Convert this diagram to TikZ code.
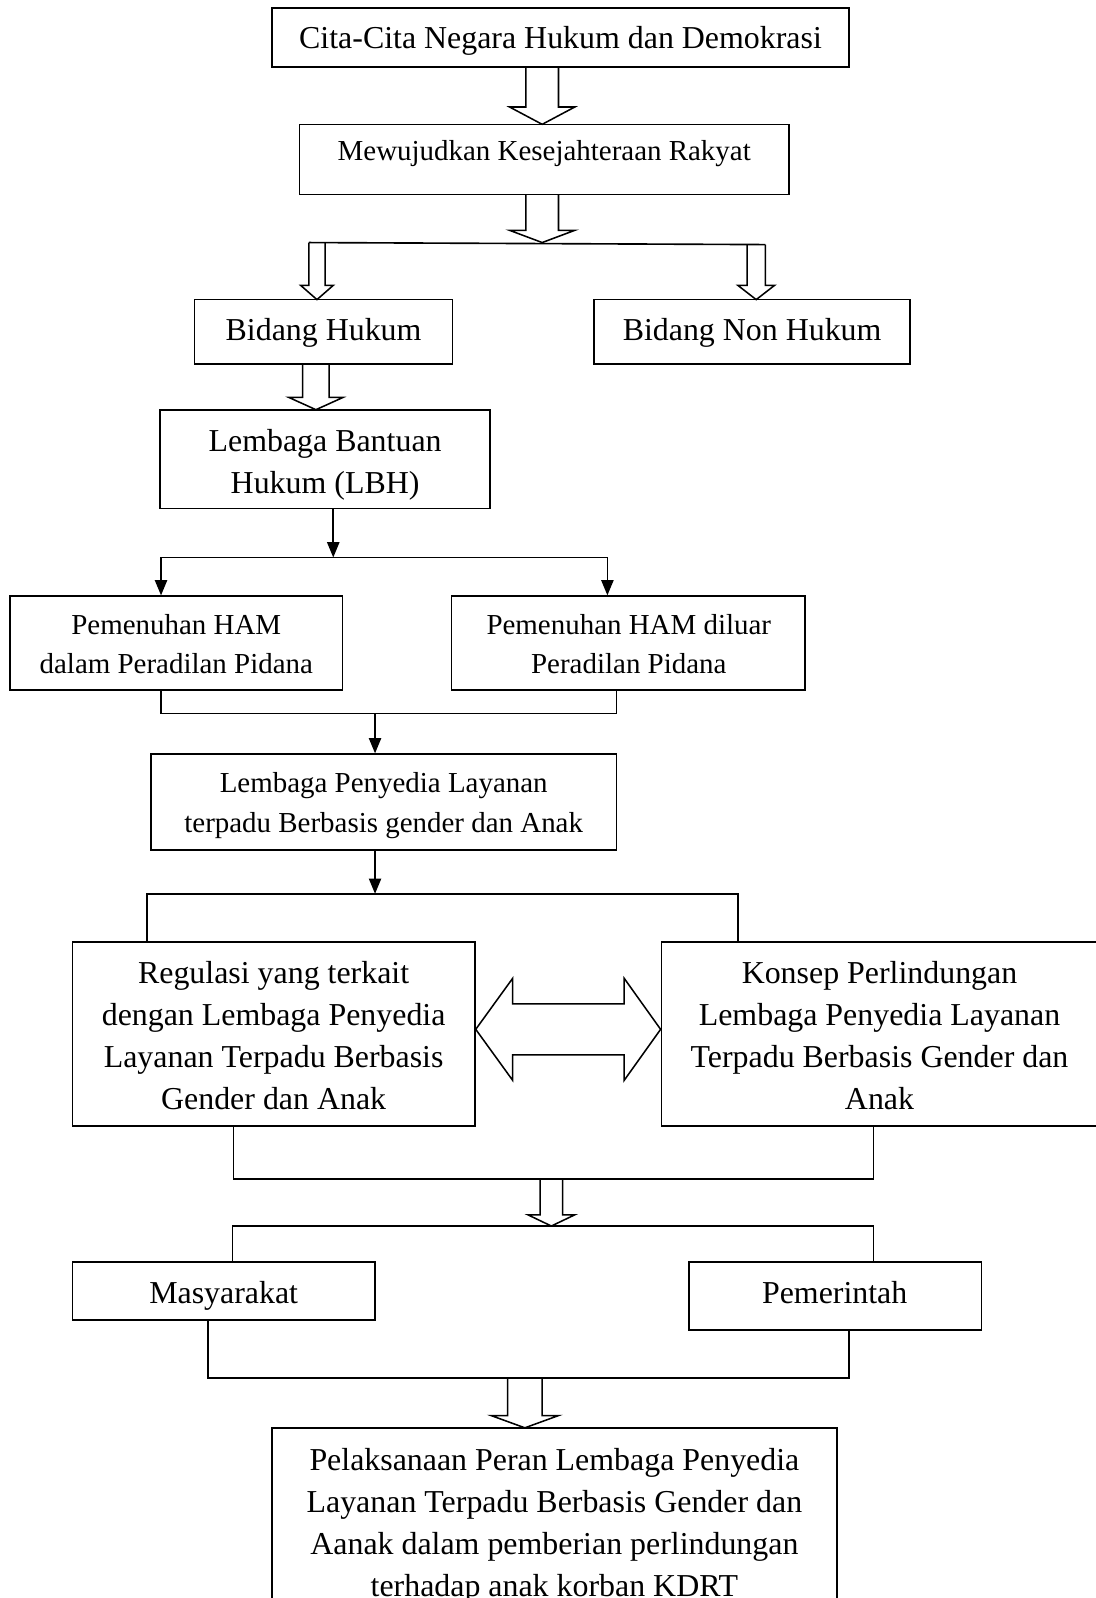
\documentclass[tikz,border=0pt]{standalone}
\usepackage{fontspec}
\setmainfont{Liberation Serif}
\usetikzlibrary{arrows.meta}
\tikzset{
  box/.style 2 args={draw, line width=1.6pt, inner sep=0pt, minimum width=#1pt, minimum height=#2pt},
  big/.style={font=\fontsize{31.3}{41.2}\selectfont, align=center, inner sep=0pt},
  mid/.style={font=\fontsize{28.4}{38.7}\selectfont, align=center, inner sep=0pt},
  ln/.style={line width=1.6pt},
  arr/.style={ln, -{Triangle[length=15pt,width=12pt]}},
  hol/.style={line width=1.5pt, line join=miter}
}
\newcommand\holdown[6]{%
  \draw[hol] ({#1-#5},#2) -- ({#1-#5},#3) -- ({#1-#6},#3) -- (#1,#4) -- ({#1+#6},#3) -- ({#1+#5},#3) -- ({#1+#5},#2);}
\begin{document}
\begin{tikzpicture}[x=1pt,y=-1pt]
\useasboundingbox (0,0) rectangle (1075,1568);
\fill[white] (0,0) rectangle (1075,1568);

% boxes
\node[box={566}{58}] (A) at (550,37) {};
\node[big] (At) at (550,39.8) {\strut Cita-Cita Negara Hukum dan Demokrasi};
\node[box={480}{69}] (B) at (534,156.5) {};
\node[mid] (Bt) at (534,149.3) {\strut Mewujudkan Kesejahteraan Rakyat};
\node[box={253}{63}] (C) at (317.5,325.5) {};
\node[big] (Ct) at (317.5,326.2) {\strut Bidang Hukum};
\node[box={310}{63}] (D) at (738,325.5) {};
\node[big] (Dt) at (738,326.2) {\strut Bidang Non Hukum};
\node[box={324}{97}] (E) at (319,450.5) {};
\node[big] (Et) at (319,455.2) {\strut Lembaga Bantuan\\\strut Hukum (LBH)};
\node[box={326}{92}] (F) at (173,631) {};
\node[mid] (Ft) at (173,634.2) {\strut Pemenuhan HAM\\\strut dalam Peradilan Pidana};
\node[box={347}{92}] (G) at (616.5,631) {};
\node[mid] (Gt) at (617,634.2) {\strut Pemenuhan HAM diluar\\\strut Peradilan Pidana};
\node[box={457}{94}] (H) at (376.5,787) {};
\node[mid] (Ht) at (376.5,789.4) {\strut Lembaga Penyedia Layanan\\\strut terpadu Berbasis gender dan Anak};
\node[box={395}{181}] (I) at (268.5,1014.5) {};
\node[big] (It) at (268.5,1018.6) {\strut Regulasi yang terkait\\\strut dengan Lembaga Penyedia\\\strut Layanan Terpadu Berbasis\\\strut Gender dan Anak};
\node[box={433}{181}] (J) at (865.5,1014.5) {};
\node[big] (Jt) at (863,1018.6) {\strut Konsep Perlindungan\\\strut Lembaga Penyedia Layanan\\\strut Terpadu Berbasis Gender dan\\\strut Anak};
\node[box={297}{57}] (K) at (219.5,1266.5) {};
\node[big] (Kt) at (219.5,1270.8) {\strut Masyarakat};
\node[box={287}{67}] (L) at (819.5,1271.5) {};
\node[big] (Lt) at (819,1270.8) {\strut Pemerintah};
\node[box={554}{220}] (M) at (544,1511) {};
\node[big] (Mt) at (544,1496.8) {\strut Pelaksanaan Peran Lembaga Penyedia\\\strut Layanan Terpadu Berbasis Gender dan\\\strut Aanak dalam pemberian perlindungan\\\strut terhadap anak korban KDRT};

% hollow arrows
\holdown{532}{66}{105}{122}{16}{32}
\holdown{532}{191}{226}{238}{16}{32}
\holdown{311}{238}{280}{294}{8}{16}
\holdown{742}{240}{280}{294}{9}{18}
\holdown{310}{357}{390}{402}{13}{26.5}
\holdown{541}{1157}{1192}{1203}{11}{23}
\holdown{515}{1352}{1389}{1401}{17}{33}
\draw[ln] (303,238) -- (751,240);

% double arrow between I and J
\draw[hol] (I.east |- 0,1010) -- (503,960) -- (503,985) -- (612.5,985) -- (612.5,960) -- (J.west |- 0,1010)
  -- (612.5,1060) -- (612.5,1035) -- (503,1035) -- (503,1060) -- cycle;

% LBH split
\coordinate (j1) at (327,547);
\draw[arr] (E.south -| j1) -- (j1);
\draw[ln] (158,547) -- (596,547);
\draw[arr] (158,547) -- (F.north -| 158,0);
\draw[arr] (596,547) -- (G.north -| 596,0);

% merge to H
\draw[ln] (F.south -| 158,0) -- (158,700) -- (605,700) -- (G.south -| 605,0);
\draw[arr] (368,700) -- (H.north -| 368,0);

% H split
\draw[arr] (H.south -| 368,0) -- (368,877);
\draw[ln] (I.north -| 144,0) -- (144,877) -- (724,877) -- (J.north -| 724,0);

% merge I/J
\draw[ln] (I.south -| 229,0) -- (229,1157) -- (857,1157) -- (J.south -| 857,0);
\draw[ln] (K.north -| 228,0) -- (228,1203) -- (857,1203) -- (L.north -| 857,0);

% merge K/L
\draw[ln] (K.south -| 204,0) -- (204,1352) -- (833,1352) -- (L.south -| 833,0);
\end{tikzpicture}
\end{document}
